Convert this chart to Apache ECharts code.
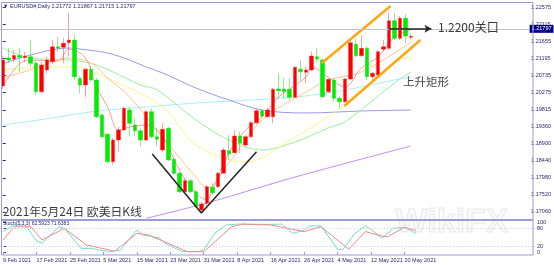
<!DOCTYPE html>
<html><head><meta charset="utf-8">
<script src="https://cdn.jsdelivr.net/npm/echarts@6/dist/echarts.min.js"></script>
<style>html,body{margin:0;padding:0;background:#fff;}#c{width:554px;height:265px;}</style>
</head><body><div id="c"></div>
<script>
// ---------------- data ----------------
const dates = ['9 Feb 2021','10 Feb 2021','11 Feb 2021','12 Feb 2021','15 Feb 2021','16 Feb 2021','17 Feb 2021','18 Feb 2021','19 Feb 2021','22 Feb 2021','23 Feb 2021','24 Feb 2021','25 Feb 2021','26 Feb 2021',
'1 Mar 2021','2 Mar 2021','3 Mar 2021','4 Mar 2021','5 Mar 2021','8 Mar 2021','9 Mar 2021','10 Mar 2021','11 Mar 2021','12 Mar 2021','15 Mar 2021','16 Mar 2021','17 Mar 2021','18 Mar 2021','19 Mar 2021','22 Mar 2021','23 Mar 2021','24 Mar 2021','25 Mar 2021','26 Mar 2021','29 Mar 2021','30 Mar 2021','31 Mar 2021',
'1 Apr 2021','2 Apr 2021','5 Apr 2021','6 Apr 2021','7 Apr 2021','8 Apr 2021','9 Apr 2021','12 Apr 2021','13 Apr 2021','14 Apr 2021','15 Apr 2021','16 Apr 2021','19 Apr 2021','20 Apr 2021','21 Apr 2021','22 Apr 2021','23 Apr 2021','26 Apr 2021','27 Apr 2021','28 Apr 2021','29 Apr 2021','30 Apr 2021',
'3 May 2021','4 May 2021','5 May 2021','6 May 2021','7 May 2021','10 May 2021','11 May 2021','12 May 2021','13 May 2021','14 May 2021','17 May 2021','18 May 2021','19 May 2021','20 May 2021','21 May 2021','24 May 2021'];
const xTickLabels = ['9 Feb 2021','17 Feb 2021','25 Feb 2021','5 Mar 2021','15 Mar 2021','23 Mar 2021','31 Mar 2021','8 Apr 2021','16 Apr 2021','26 Apr 2021','4 May 2021','12 May 2021','20 May 2021'];
const yTickLabels = [1.17060,1.17520,1.17980,1.18440,1.18900,1.19360,1.19815,1.20275,1.20735,1.21195,1.21655,1.22115,1.22575];
const stochTickLabels = [0,20,80,100];

const opens = [1.20457,1.21212,1.21185,1.21280,1.21226,1.21248,1.21069,1.20303,1.20889,1.21113,
1.21517,1.21501,1.21625,1.21698,1.20665,1.20484,1.20908,1.20619,1.19674,1.19154,
1.18414,1.19000,1.19270,1.19809,1.19405,1.19251,1.19000,1.19763,1.19089,1.18730,
1.19316,1.18479,1.18101,1.17605,1.17902,1.17605,1.17111,1.17292,1.17724,1.17740,
1.18101,1.18711,1.18657,1.19108,1.18865,1.19089,1.19467,1.19790,1.19629,1.19629,
1.20376,1.20376,1.20368,1.20152,1.20908,1.20827,1.20889,1.21248,1.21158,1.20303,
1.20619,1.20125,1.20033,1.20646,1.21582,1.21274,1.21474,1.20708,1.20754,1.21447,
1.21474,1.22219,1.21744,1.22284,1.21772];
const closes = [1.21158,1.21158,1.21280,1.21231,1.21266,1.21069,1.20303,1.21024,1.21158,1.21517,
1.21482,1.21609,1.21698,1.20708,1.20484,1.20908,1.20619,1.19629,1.19089,1.18414,
1.19000,1.19270,1.19855,1.19450,1.19251,1.19000,1.19763,1.19089,1.19019,1.19289,
1.18460,1.18101,1.17605,1.17902,1.17605,1.17200,1.17273,1.17740,1.17578,1.18101,
1.18730,1.18622,1.19108,1.18911,1.19089,1.19467,1.19790,1.19647,1.19809,1.20368,
1.20330,1.20303,1.20152,1.20961,1.20843,1.20889,1.21266,1.21185,1.20168,1.20638,
1.20125,1.20033,1.20646,1.21625,1.21274,1.21474,1.20708,1.20800,1.21382,1.21517,
1.22219,1.21744,1.22284,1.21806,1.21797];
const lows = [1.20376,1.21077,1.21104,1.20835,1.21104,1.20978,1.20214,1.20268,1.20800,1.21050,
1.21374,1.21069,1.21248,1.20619,1.20260,1.20168,1.20565,1.19593,1.19054,1.18379,
1.18325,1.18684,1.19243,1.19089,1.19108,1.18819,1.18973,1.19054,1.18819,1.18676,
1.18433,1.18055,1.17570,1.17570,1.17570,1.17165,1.17038,1.17219,1.17516,1.17705,
1.18082,1.18460,1.18641,1.18641,1.18811,1.19054,1.19431,1.19593,1.19593,1.19450,
1.20125,1.20125,1.20079,1.20133,1.20573,1.20530,1.20862,1.21104,1.20133,1.20268,
1.20033,1.19855,1.19998,1.20619,1.21239,1.21239,1.20619,1.20530,1.20727,1.21401,
1.21428,1.21698,1.21698,1.21609,1.21715];
const highs = [1.21266,1.21482,1.21428,1.21482,1.21374,1.21698,1.21158,1.21104,1.21248,1.21698,
1.21787,1.21744,1.22435,1.21833,1.20727,1.20943,1.20997,1.20673,1.19728,1.19189,
1.19054,1.19359,1.19898,1.19898,1.19593,1.19324,1.19809,1.19855,1.19324,1.19450,
1.19359,1.18514,1.18136,1.17947,1.17947,1.17651,1.17327,1.17786,1.17831,1.18136,
1.18784,1.19135,1.19270,1.19224,1.19135,1.19512,1.19836,1.19836,1.19863,1.20403,
1.20800,1.20673,1.20673,1.20997,1.21158,1.20978,1.21382,1.21474,1.21212,1.20673,
1.20673,1.20187,1.20673,1.21744,1.21744,1.21833,1.21536,1.20835,1.21428,1.21698,
1.22419,1.22435,1.22346,1.22400,1.21867];

// moving averages: [bar index, price]
const ma5 = [[0,1.20457],[3,1.21051],[5,1.21158],[10,1.21131],[12,1.21455],[15,1.21212],[17,1.20430],[19,1.19890],[21,1.19270],[23,1.19351],[26,1.19405],[29,1.19081],[32,1.18190],[35,1.17570],[37,1.17381],[38,1.17651],[41,1.18649],[44,1.19270],[47,1.19620],[50,1.20160],[55,1.20700],[56,1.20970],[59,1.20700],[62,1.20430],[65,1.20943],[68,1.21239],[71,1.21779],[74,1.21968]];
const ma10 = [[0,1.20673],[5,1.20889],[12,1.21212],[16,1.21077],[19,1.20673],[23,1.20160],[29,1.19081],[35,1.18001],[37,1.17705],[41,1.18379],[47,1.19539],[55,1.20295],[59,1.20619],[65,1.20835],[74,1.21644]];
const ma20 = [[0,1.20889],[9,1.20970],[14,1.20970],[17,1.20808],[29,1.19890],[35,1.18865],[44,1.18406],[53,1.19081],[62,1.19944],[71,1.21104],[74,1.21239]];
const ma40 = [[0,1.21482],[5,1.21212],[12,1.21158],[17,1.21024],[25,1.20484],[28,1.20349],[35,1.19540],[41,1.19000],[47,1.18730],[53,1.18946],[59,1.19324],[62,1.19486],[71,1.20538],[74,1.20835]];
const ma60 = [[0,1.21051],[5,1.21293],[12,1.21482],[14,1.21455],[19,1.21347],[23,1.21158],[26,1.20970],[29,1.20808],[35,1.20403],[41,1.20079],[47,1.19809],[55,1.19729],[65,1.19782],[74,1.19809]];
const ma100 = [[0,1.19405],[9,1.19593],[17,1.19782],[26,1.19890],[35,1.19998],[53,1.20160],[62,1.20349],[71,1.20619],[74,1.20700]];
const ma200 = [[26,1.16887],[37,1.17300],[53,1.18001],[74,1.18838]];

// stochastic (5,3,3)
const stochK = [[0,68],[2,90],[4,90],[6,37],[7,29],[10,84],[11,79],[14,12],[16,12],[17,7],[19,2],[21,6],[24,73],[25,57],[28,47],[29,30],[32,2],[35,2],[36,7],[38,63],[40,90],[42,93],[48,92],[50,93],[52,62],[54,73],[55,87],[57,87],[60,9],[61,9],[63,60],[65,87],[66,75],[68,46],[70,79],[72,82],[74,62.5923]];
const stochD = [[0,40],[2,84],[5,84],[7,40],[11,79],[15,23],[19,7],[20,2],[24,62],[26,57],[29,34],[33,1],[36,1],[38,34],[41,84],[43,93],[48,90],[51,79],[54,68],[57,84],[60,40],[62,9],[65,68],[68,53],[69,51],[72,82],[74,71.6383]];

// drawn annotations: [bar index, price]
const vLine = [[27.1,1.18622],[36.0,1.17028],[46.0,1.18684]];
const channelUpper = [[57.8,1.21069],[70.3,1.22616]];
const channelLower = [[61.9,1.19917],[75.7,1.21698]];
const keyLevel = 1.2200;
const keyArrow = [70.0, 77.7];

// ---------------- chart ----------------
const N = 96, BW = 5.578;
const GW = N * BW;
const cats = dates.concat(new Array(N - dates.length).fill(''));
const last = dates.length - 1;
const frameColor = '#9c9cd6';
const txtColor = '#28286e';

const chart = echarts.init(document.getElementById('c'), null, {renderer: 'canvas'});
const maSeries = (data, color) => ({
  type: 'line', xAxisIndex: 1, yAxisIndex: 0, data: data, smooth: 0.35, symbol: 'none',
  lineStyle: {color: color, width: 1}, silent: true, z: 1
});
chart.setOption({
  animation: false,
  backgroundColor: '#ffffff',
  grid: [
    {left: 0, top: 3, width: GW, height: 217},
    {left: 0, top: 220, width: GW, height: 35}
  ],
  xAxis: [
    {type: 'category', gridIndex: 0, data: cats, boundaryGap: true, show: false},
    {type: 'value', gridIndex: 0, min: -0.5, max: N - 0.5, show: false},
    {type: 'category', gridIndex: 1, data: cats, boundaryGap: true,
      axisLine: {show: false},
      axisTick: {show: true, length: 3, alignWithLabel: true, lineStyle: {color: frameColor},
        interval: (i, v) => xTickLabels.indexOf(v) >= 0},
      axisLabel: {show: true, interval: (i, v) => xTickLabels.indexOf(v) >= 0, align: 'left', margin: 2,
        fontSize: 5.5, fontFamily: 'Liberation Sans', color: txtColor}},
    {type: 'value', gridIndex: 1, min: -0.5, max: N - 0.5, show: false}
  ],
  yAxis: [
    {type: 'value', gridIndex: 0, position: 'right', offset: -2.5, min: 1.16841, max: 1.22697, scale: true,
      splitLine: {show: false}, axisLine: {show: false},
      axisTick: {show: true, length: 3, customValues: yTickLabels, lineStyle: {color: txtColor}},
      axisLabel: {customValues: yTickLabels, formatter: v => v.toFixed(5), fontSize: 5.5, fontFamily: 'Liberation Sans', color: txtColor, margin: 4}},
    {type: 'value', gridIndex: 1, position: 'right', offset: -2.5, min: -10, max: 106.667,
      splitLine: {show: false}, axisLine: {show: false},
      axisTick: {show: true, length: 3, customValues: stochTickLabels, lineStyle: {color: txtColor}},
      axisLabel: {customValues: stochTickLabels, fontSize: 5.5, fontFamily: 'Liberation Sans', color: txtColor, margin: 4}}
  ],
  series: [
    maSeries(ma200, '#c68ef0'),
    maSeries(ma100, '#a8f0fa'),
    maSeries(ma60, '#9a9ae6'),
    maSeries(ma40, '#9cf09c'),
    maSeries(ma20, '#fdf58a'),
    maSeries(ma10, '#ffc890'),
    maSeries(ma5, '#ff9c9c'),
    {type: 'candlestick', xAxisIndex: 0, yAxisIndex: 0, barWidth: 4, z: 3,
      data: opens.map((o, i) => [o, closes[i], lows[i], highs[i]]),
      itemStyle: {color: '#ff0000', color0: '#00ee00', borderColor: 'rgba(255,40,40,0.45)', borderColor0: 'rgba(0,220,0,0.45)', borderWidth: 1},
      markLine: {silent: true, symbol: 'none', animation: false,
        lineStyle: {color: '#c4c4c8', width: 1, type: 'solid'},
        label: {position: 'end', distance: 0, formatter: () => closes[last].toFixed(5), color: '#fff', backgroundColor: '#000080', fontSize: 5.5, fontFamily: 'Liberation Sans', padding: [1, 2]},
        data: [{yAxis: closes[last]}]}},
    {type: 'line', xAxisIndex: 1, yAxisIndex: 0, data: vLine, symbol: 'none', z: 4, silent: true,
      lineStyle: {color: '#2a2a2a', width: 1.6}},
    {type: 'line', xAxisIndex: 1, yAxisIndex: 0, data: channelUpper, symbol: 'none', z: 4, silent: true,
      lineStyle: {color: '#ffa812', width: 2.5}},
    {type: 'line', xAxisIndex: 1, yAxisIndex: 0, data: channelLower, symbol: 'none', z: 4, silent: true,
      lineStyle: {color: '#ffa812', width: 2.5}},
    {type: 'line', xAxisIndex: 1, yAxisIndex: 0, data: [], z: 5,
      markLine: {silent: true, symbol: ['none', 'arrow'], symbolSize: [6, 7], label: {show: false},
        lineStyle: {color: '#222', width: 1.6, type: 'solid'},
        data: [[{coord: [keyArrow[0], keyLevel]}, {coord: [keyArrow[1], keyLevel]}]]}},
    {type: 'line', xAxisIndex: 3, yAxisIndex: 1, data: stochK, symbol: 'none', silent: true,
      lineStyle: {color: '#72dcd2', width: 1},
      markLine: {silent: true, symbol: 'none', label: {show: false},
        lineStyle: {color: '#c8c8c8', width: 1, type: [1, 2]}, data: [{yAxis: 80}, {yAxis: 20}]}},
    {type: 'line', xAxisIndex: 3, yAxisIndex: 1, data: stochD, symbol: 'none', silent: true,
      lineStyle: {color: '#f08a8a', width: 1}}
  ],
  graphic: [
    {type: 'text', left: 395, top: 205, z: 0, silent: true,
      style: {text: 'WikiFX', fontSize: 34, fontWeight: 'bold', fontFamily: 'Liberation Sans', fill: 'rgba(0,0,0,0.02)', stroke: 'rgba(170,170,170,0.25)', lineWidth: 1}},
    {type: 'rect', z: 10, silent: true, shape: {x: 1.5, y: 2.5, width: 531.5, height: 252.5},
      style: {fill: 'none', stroke: frameColor, lineWidth: 1}},
    {type: 'line', z: 10, silent: true, shape: {x1: 1.5, y1: 220, x2: 533, y2: 220},
      style: {stroke: frameColor, lineWidth: 2}},
    {type: 'text', z: 11, silent: true, x: 3, y: 6,
      style: {text: '▼ EURUSD#,Daily ' + [opens[last], highs[last], lows[last], closes[last]].map(v => v.toFixed(5)).join(' '),
        fontSize: 5.5, fontFamily: 'Liberation Sans', fill: txtColor, verticalAlign: 'middle'}},
    {type: 'text', z: 11, silent: true, x: 3, y: 224,
      style: {text: 'Stoch(5,3,3) ' + stochK[stochK.length - 1][1].toFixed(4) + ' ' + stochD[stochD.length - 1][1].toFixed(4),
        fontSize: 5, fontFamily: 'Liberation Sans', fill: txtColor, verticalAlign: 'middle'}},
    {type: 'text', z: 11, silent: true, x: 3, y: 212,
      style: {text: '2021年5月24日 欧美日K线', fontSize: 11.8, fontFamily: 'Noto Sans CJK SC', fill: '#3a3a3a', verticalAlign: 'middle'}},
    {type: 'text', z: 11, silent: true, x: 438, y: 27,
      style: {text: '1.2200关口', fontSize: 12, fontFamily: 'Noto Sans CJK SC', fill: '#3a3a3a', verticalAlign: 'middle'}},
    {type: 'text', z: 11, silent: true, x: 403, y: 82,
      style: {text: '上升矩形', fontSize: 11.5, fontFamily: 'Noto Sans CJK SC', fill: '#444', verticalAlign: 'middle'}}
  ]
});
</script></body></html>
